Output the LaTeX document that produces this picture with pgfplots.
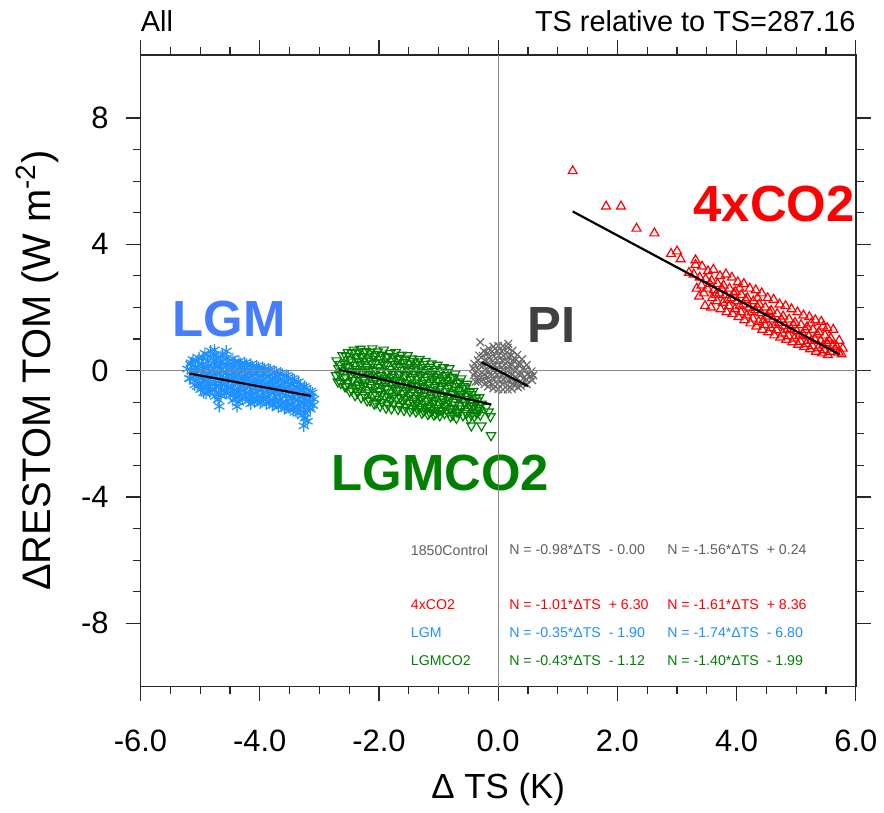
\documentclass[border=0pt]{standalone}
\usepackage{fontspec}
\setmainfont{Liberation Sans}
\usepackage{pgfplots}
\pgfplotsset{compat=1.18}
\definecolor{lgmblue}{RGB}{30,144,255}
\definecolor{lgmlabel}{RGB}{70,125,255}
\definecolor{pigray}{RGB}{105,105,105}
\definecolor{pilabel}{RGB}{64,64,64}
\definecolor{cgreen}{RGB}{0,128,0}
\definecolor{ctlgray}{RGB}{95,95,95}
\definecolor{axgray}{RGB}{40,40,40}
\begin{document}
\begin{tikzpicture}
\begin{axis}[
  set layers,
  scale only axis, width=359pt, height=317pt,
  xmin=-6, xmax=6, ymin=-10, ymax=10,
  xtick={-6,-4,-2,0,2,4,6}, ytick={-8,-4,0,4,8},
  minor x tick num=3, minor y tick num=3,
  tick align=outside,
  major tick length=7.5pt, minor tick length=4pt,
  every tick/.style={axgray, line width=0.6pt},
  axis line style={axgray, line width=0.8pt},
  /pgf/number format/assume math mode=true,
  xticklabel={\pgfmathprintnumber[fixed,fixed zerofill,precision=1]{\tick}},
  ticklabel style={font=\fontsize{15.5}{18}\selectfont},
  xticklabel style={yshift=-11pt},
  yticklabel style={xshift=-5pt},
  clip=false,
]
% zero lines (drawn over the points)
\addplot[on layer=axis foreground, pigray!80, line width=0.6pt] coordinates {(-6,0) (6,0)};
\addplot[on layer=axis foreground, pigray!80, line width=0.6pt] coordinates {(0,-10) (0,10)};

% LGM
\addplot[only marks, mark=asterisk, mark size=3pt, color=lgmblue, line width=0.6pt] coordinates {
(-5.21,0.05)(-5.18,-0.25)(-5.16,0.2)
(-5.12,0.35)(-5.08,0.12)(-5.11,-0.08)(-5.06,-0.3)(-5.09,-0.45)
(-5.02,0.4)(-4.98,0.18)(-5.03,-0.02)(-4.97,-0.22)(-5.01,-0.42)(-4.99,-0.6)
(-4.92,0.55)(-4.88,0.3)(-4.91,0.08)(-4.87,-0.12)(-4.93,-0.35)(-4.89,-0.55)(-4.9,-0.72)
(-4.82,0.62)(-4.78,0.25)(-4.81,0.02)(-4.77,-0.2)(-4.83,-0.4)(-4.79,-0.62)
(-4.72,0.4)(-4.68,0.15)(-4.71,-0.08)(-4.67,-0.3)(-4.73,-0.5)(-4.69,-0.7)(-4.7,-0.92)
(-4.62,0.5)(-4.58,0.22)(-4.61,-0.02)(-4.57,-0.25)(-4.63,-0.45)(-4.59,-0.68)
(-4.52,0.3)(-4.48,0.1)(-4.51,-0.12)(-4.47,-0.35)(-4.53,-0.55)(-4.49,-0.78)
(-4.42,0.28)(-4.38,0.05)(-4.41,-0.18)(-4.37,-0.4)(-4.43,-0.62)(-4.39,-0.85)
(-4.32,0.22)(-4.28,0.0)(-4.31,-0.22)(-4.27,-0.45)(-4.33,-0.68)(-4.29,-0.9)
(-4.22,0.2)(-4.18,-0.05)(-4.21,-0.28)(-4.17,-0.5)(-4.23,-0.72)(-4.19,-0.95)
(-4.12,0.12)(-4.08,-0.1)(-4.11,-0.32)(-4.07,-0.55)(-4.13,-0.78)(-4.09,-1.0)
(-4.02,0.1)(-3.98,-0.15)(-4.01,-0.38)(-3.97,-0.6)(-4.03,-0.82)(-3.99,-1.02)
(-3.92,0.05)(-3.88,-0.2)(-3.91,-0.42)(-3.87,-0.65)(-3.93,-0.88)(-3.89,-1.05)
(-3.82,0.02)(-3.78,-0.25)(-3.81,-0.48)(-3.77,-0.7)(-3.83,-0.92)(-3.79,-1.1)
(-3.72,-0.05)(-3.68,-0.3)(-3.71,-0.52)(-3.67,-0.75)(-3.73,-0.98)(-3.69,-1.15)
(-3.62,-0.12)(-3.58,-0.35)(-3.61,-0.58)(-3.57,-0.8)(-3.63,-1.02)(-3.59,-1.2)
(-3.52,-0.2)(-3.48,-0.42)(-3.51,-0.65)(-3.47,-0.88)(-3.53,-1.08)(-3.49,-1.25)
(-3.42,-0.3)(-3.38,-0.5)(-3.41,-0.72)(-3.37,-0.95)(-3.43,-1.15)(-3.39,-1.3)
(-3.32,-0.45)(-3.28,-0.62)(-3.31,-0.82)(-3.27,-1.02)(-3.33,-1.22)(-3.29,-1.42)
(-3.22,-0.55)(-3.18,-0.75)(-3.21,-0.95)(-3.17,-1.15)(-3.23,-1.35)(-3.2,-1.6)
(-3.12,-0.7)(-3.09,-0.9)(-3.11,-1.1)
(-4.68,-1.13)(-4.38,-1.14)(-4.76,0.66)(-4.56,0.62)(-3.26,-1.75)
(-5.15,0.25)(-5.14,0.0)(-5.16,-0.25)
(-5.05,0.3)(-5.04,0.05)(-5.06,-0.2)(-5.05,-0.5)
(-4.95,0.42)(-4.96,0.2)(-4.94,-0.05)(-4.95,-0.3)(-4.96,-0.5)(-4.94,-0.7)
(-4.85,0.45)(-4.86,0.15)(-4.84,-0.05)(-4.85,-0.25)(-4.86,-0.48)(-4.84,-0.68)
(-4.75,0.5)(-4.74,0.3)(-4.76,0.08)(-4.75,-0.15)(-4.74,-0.4)(-4.76,-0.6)(-4.75,-0.82)
(-4.65,0.45)(-4.66,0.25)(-4.64,0.05)(-4.65,-0.18)(-4.66,-0.4)(-4.64,-0.6)(-4.65,-0.8)
(-4.55,0.4)(-4.54,0.18)(-4.56,-0.05)(-4.55,-0.28)(-4.54,-0.5)(-4.56,-0.72)
(-4.45,0.38)(-4.46,0.15)(-4.44,-0.08)(-4.45,-0.3)(-4.46,-0.52)(-4.44,-0.75)(-4.45,-0.95)
(-4.35,0.3)(-4.34,0.1)(-4.36,-0.12)(-4.35,-0.35)(-4.34,-0.58)(-4.36,-0.8)(-4.35,-1.0)
(-4.25,0.25)(-4.26,0.05)(-4.24,-0.18)(-4.25,-0.4)(-4.26,-0.62)(-4.24,-0.85)
(-4.15,0.2)(-4.14,0.0)(-4.16,-0.22)(-4.15,-0.45)(-4.14,-0.68)(-4.16,-0.9)(-4.15,-1.05)
(-4.05,0.15)(-4.06,-0.05)(-4.04,-0.28)(-4.05,-0.5)(-4.06,-0.72)(-4.04,-0.95)
(-3.95,0.1)(-3.94,-0.1)(-3.96,-0.32)(-3.95,-0.55)(-3.94,-0.78)(-3.96,-0.98)
(-3.85,0.05)(-3.86,-0.15)(-3.84,-0.38)(-3.85,-0.6)(-3.86,-0.82)(-3.84,-1.02)
(-3.75,-0.02)(-3.74,-0.22)(-3.76,-0.42)(-3.75,-0.65)(-3.74,-0.88)(-3.76,-1.08)
(-3.65,-0.08)(-3.66,-0.28)(-3.64,-0.48)(-3.65,-0.7)(-3.66,-0.92)(-3.64,-1.12)
(-3.55,-0.15)(-3.54,-0.35)(-3.56,-0.55)(-3.55,-0.78)(-3.54,-1.0)(-3.56,-1.18)
(-3.45,-0.25)(-3.46,-0.45)(-3.44,-0.62)(-3.45,-0.85)(-3.46,-1.05)(-3.44,-1.25)
(-3.35,-0.35)(-3.34,-0.55)(-3.36,-0.72)(-3.35,-0.92)(-3.34,-1.12)(-3.36,-1.35)
(-3.25,-0.5)(-3.26,-0.7)(-3.24,-0.88)(-3.25,-1.08)(-3.26,-1.3)(-3.24,-1.5)
(-3.15,-0.65)(-3.14,-0.85)(-3.16,-1.02)(-3.15,-1.22)
};

% LGMCO2
\addplot[only marks, mark=triangle, mark size=2.7pt, mark options={rotate=180}, color=cgreen, line width=0.6pt] coordinates {
(-2.71,0.32)(-2.68,0.08)(-2.72,-0.15)(-2.69,-0.35)
(-2.61,0.48)(-2.58,0.22)(-2.62,0.0)(-2.59,-0.25)(-2.57,-0.5)
(-2.52,0.58)(-2.48,0.35)(-2.51,0.1)(-2.47,-0.12)(-2.53,-0.38)(-2.49,-0.65)
(-2.42,0.66)(-2.38,0.42)(-2.41,0.18)(-2.37,-0.05)(-2.43,-0.3)(-2.39,-0.55)(-2.4,-0.78)
(-2.31,0.69)(-2.28,0.45)(-2.32,0.2)(-2.29,-0.05)(-2.27,-0.3)(-2.33,-0.55)(-2.3,-0.85)
(-2.22,0.62)(-2.18,0.38)(-2.21,0.12)(-2.17,-0.12)(-2.23,-0.38)(-2.19,-0.62)(-2.2,-0.95)
(-2.11,0.7)(-2.08,0.46)(-2.12,0.22)(-2.09,-0.02)(-2.07,-0.28)(-2.13,-0.52)(-2.1,-0.78)(-2.08,-1.05)
(-2.02,0.6)(-1.98,0.36)(-2.01,0.1)(-1.97,-0.15)(-2.03,-0.4)(-1.99,-0.65)(-2.0,-0.9)(-1.98,-1.12)
(-1.92,0.66)(-1.88,0.42)(-1.91,0.18)(-1.87,-0.06)(-1.93,-0.3)(-1.89,-0.56)(-1.9,-0.82)(-1.88,-1.18)
(-1.81,0.55)(-1.78,0.3)(-1.82,0.05)(-1.79,-0.2)(-1.77,-0.45)(-1.83,-0.7)(-1.8,-0.95)(-1.79,-1.2)
(-1.72,0.58)(-1.68,0.36)(-1.71,0.12)(-1.67,-0.12)(-1.73,-0.38)(-1.69,-0.62)(-1.7,-0.88)(-1.68,-1.22)
(-1.62,0.5)(-1.58,0.26)(-1.61,0.02)(-1.57,-0.22)(-1.63,-0.48)(-1.59,-0.72)(-1.6,-0.98)(-1.58,-1.25)
(-1.52,0.48)(-1.48,0.22)(-1.51,-0.02)(-1.47,-0.28)(-1.53,-0.52)(-1.49,-0.78)(-1.5,-1.02)(-1.48,-1.28)
(-1.42,0.3)(-1.38,0.12)(-1.41,-0.12)(-1.37,-0.38)(-1.43,-0.62)(-1.39,-0.88)(-1.4,-1.1)(-1.38,-1.3)
(-1.32,0.36)(-1.28,0.1)(-1.31,-0.15)(-1.27,-0.4)(-1.33,-0.65)(-1.29,-0.9)(-1.3,-1.15)(-1.28,-1.34)
(-1.22,0.3)(-1.18,0.05)(-1.21,-0.2)(-1.17,-0.45)(-1.23,-0.7)(-1.19,-0.95)(-1.2,-1.18)(-1.18,-1.38)
(-1.12,0.22)(-1.08,-0.02)(-1.11,-0.28)(-1.07,-0.52)(-1.13,-0.78)(-1.09,-1.02)(-1.1,-1.25)(-1.08,-1.4)
(-1.02,0.18)(-0.98,-0.08)(-1.01,-0.32)(-0.97,-0.58)(-1.03,-0.82)(-0.99,-1.05)(-1.0,-1.28)(-0.98,-1.42)
(-0.92,0.1)(-0.88,-0.15)(-0.91,-0.4)(-0.87,-0.65)(-0.93,-0.9)(-0.89,-1.12)(-0.9,-1.35)
(-0.82,0.07)(-0.78,-0.2)(-0.81,-0.45)(-0.77,-0.7)(-0.83,-0.95)(-0.79,-1.18)(-0.8,-1.45)
(-0.72,-0.1)(-0.68,-0.4)(-0.71,-0.62)(-0.67,-0.85)(-0.73,-1.08)(-0.69,-1.3)(-0.7,-1.5)
(-0.62,-0.25)(-0.58,-0.5)(-0.61,-0.75)(-0.57,-0.98)(-0.63,-1.2)(-0.59,-1.42)
(-0.52,-0.42)(-0.48,-0.68)(-0.51,-0.9)(-0.47,-1.12)(-0.53,-1.35)(-0.49,-1.52)
(-0.42,-0.65)(-0.38,-0.88)(-0.41,-1.1)(-0.37,-1.3)(-0.4,-1.45)
(-0.32,-0.85)(-0.28,-1.05)(-0.31,-1.25)(-0.3,-1.4)
(-0.45,-1.74)(-0.28,-1.74)(-0.13,-1.45)(-0.12,-2.05)(-0.2,-1.15)(-0.16,-1.3)
(-2.65,0.2)(-2.66,-0.1)(-2.64,-0.4)
(-2.55,0.45)(-2.54,0.15)(-2.56,-0.2)(-2.55,-0.5)
(-2.45,0.55)(-2.46,0.28)(-2.44,-0.02)(-2.45,-0.3)(-2.46,-0.6)
(-2.35,0.6)(-2.34,0.3)(-2.36,0.05)(-2.35,-0.2)(-2.34,-0.45)(-2.36,-0.7)
(-2.25,0.58)(-2.26,0.32)(-2.24,0.0)(-2.25,-0.25)(-2.26,-0.5)(-2.24,-0.78)
(-2.15,0.58)(-2.14,0.3)(-2.16,0.05)(-2.15,-0.2)(-2.14,-0.45)(-2.16,-0.7)(-2.15,-0.95)
(-2.05,0.52)(-2.06,0.25)(-2.04,0.0)(-2.05,-0.28)(-2.06,-0.52)(-2.04,-0.78)(-2.05,-1.02)
(-1.95,0.5)(-1.94,0.25)(-1.96,0.0)(-1.95,-0.25)(-1.94,-0.5)(-1.96,-0.75)(-1.95,-1.0)
(-1.85,0.45)(-1.86,0.2)(-1.84,-0.08)(-1.85,-0.32)(-1.86,-0.58)(-1.84,-0.82)(-1.85,-1.08)
(-1.75,0.45)(-1.74,0.2)(-1.76,-0.05)(-1.75,-0.3)(-1.74,-0.55)(-1.76,-0.8)(-1.75,-1.05)
(-1.65,0.4)(-1.66,0.15)(-1.64,-0.1)(-1.65,-0.35)(-1.66,-0.6)(-1.64,-0.85)(-1.65,-1.12)
(-1.55,0.35)(-1.54,0.1)(-1.56,-0.15)(-1.55,-0.4)(-1.54,-0.65)(-1.56,-0.9)(-1.55,-1.15)
(-1.45,0.38)(-1.46,0.05)(-1.44,-0.2)(-1.45,-0.45)(-1.46,-0.7)(-1.44,-0.95)(-1.45,-1.2)
(-1.35,0.25)(-1.34,0.0)(-1.36,-0.25)(-1.35,-0.5)(-1.34,-0.78)(-1.36,-1.02)(-1.35,-1.22)
(-1.25,0.2)(-1.26,-0.05)(-1.24,-0.3)(-1.25,-0.55)(-1.26,-0.8)(-1.24,-1.05)(-1.25,-1.28)
(-1.15,0.12)(-1.14,-0.12)(-1.16,-0.38)(-1.15,-0.62)(-1.14,-0.88)(-1.16,-1.12)(-1.15,-1.32)
(-1.05,0.05)(-1.06,-0.2)(-1.04,-0.45)(-1.05,-0.7)(-1.06,-0.95)(-1.04,-1.18)(-1.05,-1.35)
(-0.95,0.0)(-0.94,-0.25)(-0.96,-0.5)(-0.95,-0.78)(-0.94,-1.0)(-0.96,-1.25)
(-0.85,-0.05)(-0.86,-0.3)(-0.84,-0.55)(-0.85,-0.82)(-0.86,-1.05)(-0.84,-1.3)
(-0.75,-0.25)(-0.74,-0.5)(-0.76,-0.75)(-0.75,-1.0)(-0.74,-1.22)(-0.76,-1.4)
(-0.65,-0.35)(-0.66,-0.6)(-0.64,-0.85)(-0.65,-1.1)(-0.66,-1.32)
(-0.55,-0.55)(-0.54,-0.8)(-0.56,-1.05)(-0.55,-1.28)
(-0.45,-0.75)(-0.46,-1.0)(-0.44,-1.2)(-0.45,-1.4)
(-0.35,-0.95)(-0.34,-1.18)(-0.36,-1.35)
};

% PI
\addplot[only marks, mark=x, mark size=2.7pt, color=pigray, line width=0.6pt] coordinates {
(-0.40,0.22)(-0.42,0.08)(-0.39,-0.06)(-0.41,-0.15)
(-0.32,0.48)(-0.34,0.33)(-0.31,0.18)(-0.33,0.03)(-0.30,-0.12)(-0.32,-0.27)(-0.34,-0.35)
(-0.24,0.62)(-0.26,0.47)(-0.23,0.32)(-0.25,0.17)(-0.22,0.02)(-0.24,-0.13)(-0.26,-0.28)(-0.23,-0.43)
(-0.16,0.7)(-0.18,0.55)(-0.15,0.4)(-0.17,0.25)(-0.14,0.1)(-0.16,-0.05)(-0.18,-0.2)(-0.15,-0.35)(-0.17,-0.5)
(-0.08,0.76)(-0.10,0.61)(-0.07,0.46)(-0.09,0.31)(-0.06,0.16)(-0.08,0.01)(-0.10,-0.14)(-0.07,-0.29)(-0.09,-0.44)(-0.08,-0.56)
(0.00,0.78)(-0.02,0.63)(0.01,0.48)(-0.01,0.33)(0.02,0.18)(0.00,0.03)(-0.02,-0.12)(0.01,-0.27)(-0.01,-0.42)(0.00,-0.58)
(0.08,0.78)(0.06,0.62)(0.09,0.47)(0.07,0.32)(0.10,0.17)(0.08,0.02)(0.06,-0.13)(0.09,-0.28)(0.07,-0.43)(0.08,-0.6)
(0.16,0.73)(0.14,0.58)(0.17,0.43)(0.15,0.28)(0.18,0.13)(0.16,-0.02)(0.14,-0.17)(0.17,-0.32)(0.15,-0.47)(0.16,-0.6)
(0.24,0.63)(0.22,0.48)(0.25,0.33)(0.23,0.18)(0.26,0.03)(0.24,-0.12)(0.22,-0.27)(0.25,-0.42)(0.23,-0.58)
(0.32,0.5)(0.30,0.35)(0.33,0.2)(0.31,0.05)(0.34,-0.1)(0.32,-0.25)(0.30,-0.4)(0.33,-0.53)
(0.40,0.36)(0.38,0.21)(0.41,0.06)(0.39,-0.09)(0.42,-0.24)(0.40,-0.39)(0.38,-0.48)
(0.48,0.18)(0.46,0.03)(0.49,-0.12)(0.47,-0.27)(0.48,-0.43)
(0.56,-0.02)(0.54,-0.17)(0.57,-0.3)
(-0.3,0.9)(0.17,0.85)(-0.38,-0.35)(0.59,-0.15)
};

% 4xCO2
\addplot[only marks, mark=triangle, mark size=2.6pt, color=red, line width=0.6pt] coordinates {
(1.25,6.32)(1.81,5.2)(2.06,5.2)(2.32,4.5)(2.62,4.35)(2.9,3.7)(3.0,3.78)(3.06,3.53)(3.31,3.5)(3.2,3.1)
(3.31,3.35)(3.28,3.05)(3.33,2.6)
(3.42,3.3)(3.38,2.95)(3.41,2.7)(3.37,2.35)
(3.52,3.15)(3.48,2.9)(3.51,2.6)(3.47,2.05)
(3.61,3.2)(3.58,2.85)(3.62,2.55)(3.59,2.3)(3.57,2.0)
(3.72,3.0)(3.68,2.75)(3.71,2.45)(3.67,2.2)(3.73,1.95)
(3.82,3.05)(3.78,2.7)(3.81,2.4)(3.77,2.15)(3.83,1.85)
(3.92,2.95)(3.88,2.6)(3.91,2.3)(3.87,2.05)(3.93,1.8)
(4.02,2.8)(3.98,2.5)(4.01,2.2)(3.97,1.95)(4.03,1.7)
(4.12,2.75)(4.08,2.4)(4.11,2.1)(4.07,1.85)(4.13,1.6)
(4.22,2.6)(4.18,2.3)(4.21,2.0)(4.17,1.75)(4.23,1.5)
(4.32,2.55)(4.28,2.2)(4.31,1.92)(4.27,1.65)(4.33,1.4)
(4.42,2.45)(4.38,2.1)(4.41,1.82)(4.37,1.55)(4.43,1.3)
(4.52,2.3)(4.48,2.0)(4.51,1.72)(4.47,1.45)(4.53,1.22)
(4.62,2.25)(4.58,1.9)(4.61,1.62)(4.57,1.35)(4.63,1.12)
(4.72,2.1)(4.68,1.8)(4.71,1.52)(4.67,1.28)(4.73,1.05)
(4.82,2.05)(4.78,1.72)(4.81,1.42)(4.77,1.18)(4.83,0.98)
(4.92,1.95)(4.88,1.62)(4.91,1.32)(4.87,1.1)(4.93,0.9)
(5.02,1.85)(4.98,1.52)(5.01,1.25)(4.97,1.02)(5.03,0.82)
(5.12,1.75)(5.08,1.45)(5.11,1.15)(5.07,0.92)(5.13,0.75)
(5.22,1.7)(5.18,1.38)(5.21,1.08)(5.17,0.85)(5.23,0.68)
(5.32,1.6)(5.28,1.3)(5.31,1.0)(5.27,0.78)(5.33,0.6)
(5.42,1.55)(5.38,1.22)(5.41,0.95)(5.37,0.72)(5.43,0.55)
(5.52,1.35)(5.48,1.12)(5.51,0.88)(5.47,0.65)(5.53,0.5)
(5.62,1.3)(5.58,1.02)(5.61,0.8)(5.57,0.6)
(5.72,0.95)(5.68,0.75)(5.71,0.58)
(5.78,0.7)(5.76,0.52)
(3.45,2.45)(3.55,2.75)(3.65,2.4)(3.75,2.6)(3.85,2.25)(3.95,2.45)(4.05,2.05)(4.15,2.25)(4.25,1.85)(4.35,2.0)(4.45,1.6)(4.55,1.85)(4.65,1.45)(4.75,1.62)(4.85,1.3)(4.95,1.45)(5.05,1.1)(5.15,1.3)(5.25,0.95)(5.35,1.15)(5.45,0.8)(5.55,0.95)(5.65,0.7)(5.25,1.5)(5.45,1.4)(4.35,2.3)(4.05,2.6)
};

% regression lines (on top)
\addplot[on layer=axis foreground, black, line width=1.1pt] coordinates {(-5.18,-0.09) (-3.14,-0.80)};
\addplot[on layer=axis foreground, black, line width=1.1pt] coordinates {(-2.67,0.03) (-0.12,-1.07)};
\addplot[on layer=axis foreground, black, line width=1.1pt] coordinates {(-0.28,0.27) (0.50,-0.49)};
\addplot[on layer=axis foreground, black, line width=1.1pt] coordinates {(1.25,5.04) (5.73,0.51)};

% big labels
\node[font=\fontsize{25.5}{28}\selectfont\bfseries, text=lgmlabel] at (axis cs:-4.51,1.64) {LGM};
\node[font=\fontsize{25.5}{28}\selectfont\bfseries, text=pilabel] at (axis cs:0.9,1.45) {PI};
\node[font=\fontsize{25.5}{28}\selectfont\bfseries, text=cgreen] at (axis cs:-0.97,-3.25) {LGMCO2};
\node[font=\fontsize{25.5}{28}\selectfont\bfseries, text=red] at (axis cs:4.63,5.27) {4xCO2};

% equation table
\begin{scope}[every node/.style={font=\fontsize{7.1}{8.5}\selectfont, anchor=west, inner sep=0pt}]
\node[text=ctlgray] at (axis cs:-1.47,-5.68) {1850Control};
\node[text=ctlgray] at (axis cs:0.18,-5.68) {N = -0.98*ΔTS \ - 0.00};
\node[text=ctlgray] at (axis cs:2.83,-5.68) {N = -1.56*ΔTS \ + 0.24};
\node[text=red] at (axis cs:-1.47,-7.41) {4xCO2};
\node[text=red] at (axis cs:0.18,-7.41) {N = -1.01*ΔTS \ + 6.30};
\node[text=red] at (axis cs:2.83,-7.41) {N = -1.61*ΔTS \ + 8.36};
\node[text=lgmblue] at (axis cs:-1.47,-8.30) {LGM};
\node[text=lgmblue] at (axis cs:0.18,-8.30) {N = -0.35*ΔTS \ - 1.90};
\node[text=lgmblue] at (axis cs:2.83,-8.30) {N = -1.74*ΔTS \ - 6.80};
\node[text=cgreen] at (axis cs:-1.47,-9.18) {LGMCO2};
\node[text=cgreen] at (axis cs:0.18,-9.18) {N = -0.43*ΔTS \ - 1.12};
\node[text=cgreen] at (axis cs:2.83,-9.18) {N = -1.40*ΔTS \ - 1.99};
\end{scope}
\end{axis}
% titles and axis labels
\node[anchor=base west, inner sep=0pt, font=\fontsize{14.5}{17}\selectfont] at ([yshift=11.5pt]current axis.north west) {All};
\node[anchor=base east, inner sep=0pt, font=\fontsize{14.5}{17}\selectfont] at ([yshift=11.5pt]current axis.north east) {TS relative to TS=287.16};
\node[rotate=90, inner sep=0pt, font=\fontsize{20}{23}\selectfont] at ([xshift=-51.5pt]current axis.west) {ΔRESTOM TOM (W m\textsuperscript{-2})};
\node[inner sep=0pt, font=\fontsize{17.5}{21}\selectfont] at ([yshift=-51.5pt]current axis.south) {Δ TS (K)};
\path ([xshift=-70.5pt,yshift=-63pt]current axis.south west) rectangle ([xshift=12.5pt,yshift=27.5pt]current axis.north east);
\end{tikzpicture}
\end{document}
